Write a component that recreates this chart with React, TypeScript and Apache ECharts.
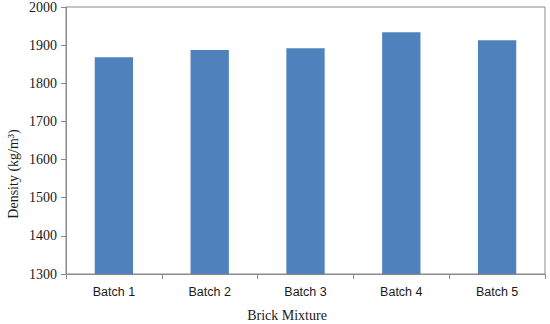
import React, { useEffect, useRef } from "react";
import * as echarts from "echarts";

const categories = ["Batch 1", "Batch 2", "Batch 3", "Batch 4", "Batch 5"];
const densityValues = [1868, 1887, 1892, 1934, 1913];
const yMin = 1300;
const yMax = 2000;
const yInterval = 100;

export default function App() {
  const ref = useRef<HTMLDivElement>(null);
  useEffect(() => {
    if (!ref.current) return;
    const chart = echarts.init(ref.current, null, { renderer: "svg" });
    chart.setOption({
      animation: false,
      backgroundColor: "#ffffff",
      grid: {
        left: 66,
        right: 5,
        top: 7,
        bottom: 50,
        show: true,
        borderColor: "#8a8a8a",
        borderWidth: 1,
      },
      xAxis: {
        type: "category",
        data: categories,
        axisLine: { lineStyle: { color: "#8a8a8a", width: 1 } },
        axisTick: { show: true, length: 5, alignWithLabel: false, lineStyle: { color: "#8a8a8a" } },
        axisLabel: {
          color: "#1a1a1a",
          fontFamily: "Liberation Sans",
          fontSize: 12.5,
          margin: 11,
        },
      },
      yAxis: {
        type: "value",
        min: yMin,
        max: yMax,
        interval: yInterval,
        axisLine: { show: true, lineStyle: { color: "#8a8a8a", width: 1 } },
        axisTick: { show: true, length: 5, lineStyle: { color: "#8a8a8a" } },
        splitLine: { show: false },
        axisLabel: {
          color: "#1a1a1a",
          fontFamily: "Liberation Serif",
          fontSize: 14,
          margin: 9,
          formatter: (v: number) => String(v),
        },
      },
      graphic: [
        {
          type: "text",
          x: 13,
          y: 174,
          rotation: Math.PI / 2,
          style: {
            text: "Density (kg/m³)",
            fontFamily: "Liberation Serif",
            fontSize: 14,
            fill: "#1a1a1a",
            textAlign: "center",
            textVerticalAlign: "middle",
          },
        },
        {
          type: "text",
          x: 287,
          y: 315,
          style: {
            text: "Brick Mixture",
            fontFamily: "Liberation Serif",
            fontSize: 14,
            fill: "#1a1a1a",
            textAlign: "center",
            textVerticalAlign: "middle",
          },
        },
      ],
      series: [
        {
          type: "bar",
          data: densityValues,
          barWidth: "40%",
          itemStyle: { color: "#4F81BD" },
        },
      ],
    });
    return () => chart.dispose();
  }, []);
  return (
    <div
      ref={ref}
      style={{ position: "fixed", left: 0, top: 0, width: 550, height: 324 }}
    />
  );
}
